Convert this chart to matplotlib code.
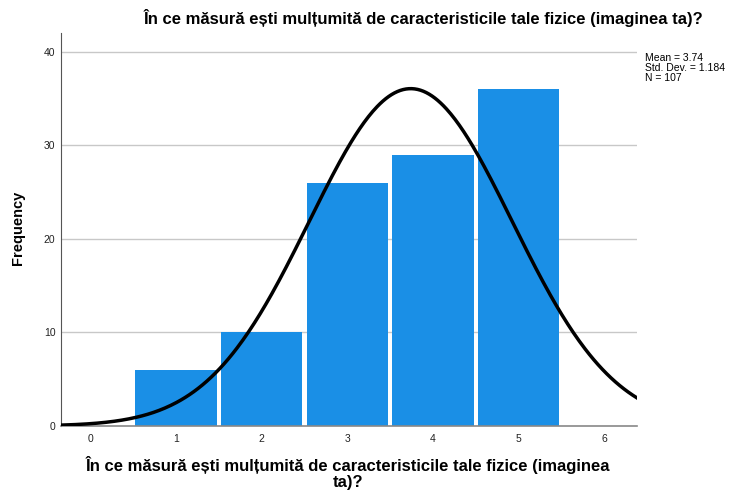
import numpy as np
import matplotlib.pyplot as plt

# Data
scores = [1, 2, 3, 4, 5]
frequency = [6, 10, 26, 29, 36]
mean_val = 3.74
std_val = 1.184
n_total = 107

title = 'În ce măsură ești mulțumită de caracteristicile tale fizice (imaginea ta)?'
xlabel = 'În ce măsură ești mulțumită de caracteristicile tale fizice (imaginea\nta)?'

plt.rcParams['font.family'] = ['Liberation Sans', 'DejaVu Sans']

fig = plt.figure(figsize=(7.39, 4.91), dpi=100)
ax = fig.add_axes([61 / 739, 1 - 426 / 491, (637 - 61) / 739, (426 - 33) / 491])

ax.bar(scores, frequency, width=0.95, color='#1a8fe6', linewidth=0, zorder=2)

# Normal curve scaled to counts (bin width 1)
xs = np.linspace(-0.34, 6.38, 400)
ys = n_total / (std_val * np.sqrt(2 * np.pi)) * np.exp(-0.5 * ((xs - mean_val) / std_val) ** 2)
ax.plot(xs, ys, color='black', linewidth=2.5, zorder=3)

ax.set_xlim(-0.34, 6.38)
ax.set_ylim(0, 42)
ax.set_xticks(range(0, 7))
ax.set_yticks([0, 10, 20, 30, 40])
ax.tick_params(length=0, labelsize=7.5, colors='#222222', pad=6)
ax.tick_params(axis='y', pad=4)
for y in [10, 20, 30, 40]:
    ax.axhline(y, color='#c8c8c8', linewidth=1, zorder=1)

for side in ['top', 'right']:
    ax.spines[side].set_visible(False)
ax.spines['left'].set_color('#555555')
ax.spines['bottom'].set_color('#888888')
ax.spines['bottom'].set_linewidth(1.2)

ax.set_ylabel('Frequency', fontsize=10.5, fontweight='bold')
ax.yaxis.set_label_coords(-0.062, 0.505)

fig.text(348 / 739, 1 - 473 / 491, xlabel, ha='center', va='center',
         fontsize=12, fontweight='bold', linespacing=1.05)
fig.text(424 / 739, 1 - 18 / 491, title, ha='center', va='center', fontsize=12, fontweight='bold')
fig.text(645 / 739, 1 - 68 / 491,
         f'Mean = {mean_val}\nStd. Dev. = {std_val}\nN = {n_total}',
         ha='left', va='center', fontsize=7.5, linespacing=1.0)

fig.savefig('out.png', dpi=100)
